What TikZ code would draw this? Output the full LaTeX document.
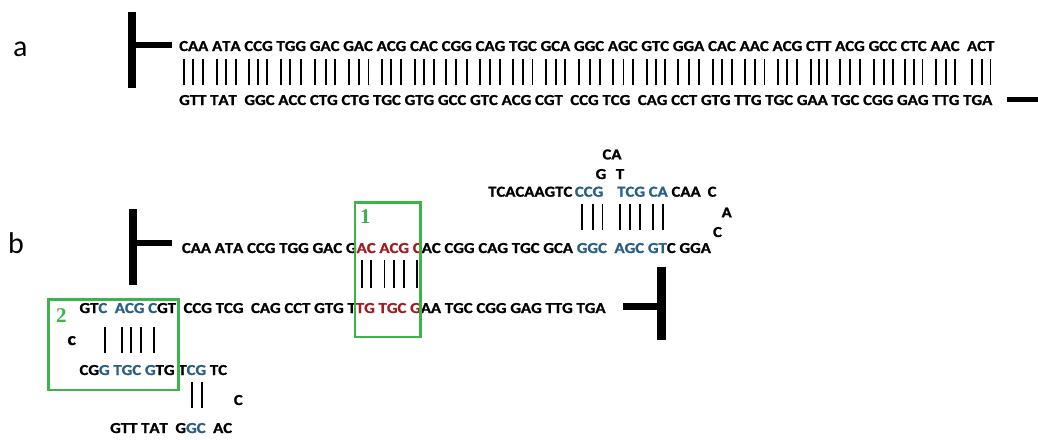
\documentclass[tikz,border=0pt]{standalone}
\usepackage{fontspec}
\setmainfont{Carlito}
\newfontfamily\seqf{Carlito}[Kerning=Off,FakeStretch=1.1,BoldFeatures={FakeBold=1.2}]
\newfontfamily\numf{Liberation Serif}
\definecolor{seqred}{RGB}{160,30,35}
\definecolor{seqblue}{RGB}{40,95,135}
\definecolor{boxgreen}{RGB}{60,180,75}
\newif\ifbarmode
\newif\ifpair
\newcount\barsel
\newdimen\barup \newdimen\bardn
\newcommand\seqfont{\seqf\bfseries\fontsize{15.2}{18}\selectfont}
\newcommand\Lt[1]{\setbox0\hbox{#1}\ifbarmode\hbox to\wd0{\hss\ifpair\vrule width 1.9pt height\barup depth\bardn\fi\hss}\else\box0\relax\fi}
\newcommand\Cd[3]{\Lt{#1}\Lt{#2}\Lt{#3}}
\newcommand\Sg[2]{\ifbarmode\ifnum#2=\barsel\pairtrue\else\pairfalse\fi\else\color{#1}\fi}
\newcommand\Bk{\ifbarmode\pairfalse\else\color{black}\fi}
\newcommand\seqAtop{\Cd CAA \Cd ATA \Cd CCG \Cd TGG \Cd GAC \Cd GAC \Cd ACG \Cd CAC \Cd CGG \Cd CAG \Cd TGC \Cd GCA \Cd GGC \Cd AGC \Cd GTC \Cd GGA \Cd CAC \Cd AAC \Cd ACG \Cd CTT \Cd ACG \Cd GCC \Cd CTC \Cd AAC\ \ \Cd ACT}
\newcommand\seqAbot{\Cd GTT \Cd TAT\ \ \Cd GGC \Cd ACC \Cd CTG \Cd CTG \Cd TGC \Cd GTG \Cd GCC \Cd GTC \Cd ACG \Cd CGT\ \ \Cd CCG \Cd TCG\ \ \Cd CAG \Cd CCT \Cd GTG \Cd TTG \Cd TGC \Cd GAA \Cd TGC \Cd CGG \Cd GAG \Cd TTG \Cd TGA}
\newcommand\seqBtop{\Cd CAA \Cd ATA \Cd CCG \Cd TGG \Cd GAC \Lt G\Sg{seqred}{1}\Lt A\Lt C \Cd ACG \Lt C\Bk\Lt A\Lt C \Cd CGG \Cd CAG \Cd TGC \Cd GCA \Sg{seqblue}{2}\Cd GGC\ \ \Cd AGC \Lt G\Lt T\Bk\Lt C \Cd GGA}
\newcommand\seqBbot{\Lt G\Lt T\Sg{seqblue}{1}\Lt C\ \ \Cd ACG \Lt C\Bk\Lt G\Lt T\ \ \Cd CCG \Cd TCG\ \ \Cd CAG \Cd CCT \Cd GTG \Lt T\Sg{seqred}{2}\Lt T\Lt G \Cd TGC \Lt G\Bk\Lt A\Lt A \Cd TGC \Cd CGG \Cd GAG \Cd TTG \Cd TGA}
\newcommand\seqBlo{\Lt C\Lt G\Sg{seqblue}{1}\Lt G \Cd TGC \Lt G\Bk\Lt T\Lt G \Lt T\Sg{seqblue}{2}\Lt C\Lt G\Bk\ \Lt T\Lt C}
\tikzset{
  seq/.style={anchor=base west, inner sep=0pt, font=\seqfont},
  letter/.style={anchor=base, inner sep=0pt, font=\seqfont},
  lab/.style={anchor=base west, inner sep=0pt, font=\fontsize{30}{34}\selectfont},
  numl/.style={anchor=base west, inner sep=0pt, text=boxgreen, font=\numf\bfseries\fontsize{21}{24}\selectfont},
  boxg/.style={draw=boxgreen, line width=2.5pt},
  vbar/.style={line width=8pt},
  hbar/.style={line width=6pt}
}
\begin{document}
\begin{tikzpicture}[x=1pt,y=-1pt]
\useasboundingbox (0,0) rectangle (1038,439);
\fill[white] (0,0) rectangle (1038,439);
% ---------- part a ----------
\node (la) [lab] at (13,56) {a};
\draw[vbar] (131.5,12) -- (131.5,88);
\draw[hbar] (135,45) -- (172,45);
\node (atop) [seq] at (179,51) {\seqAtop};
\node (abars) [seq] at (179,72) {\barmodetrue\pairtrue\barup=13.5pt\bardn=13pt\seqAtop};
\node (abot) [seq] at (179,105) {\seqAbot};
\draw[line width=5.5pt] (1007,99.5) -- (1038,99.5);
% ---------- part b ----------
\node (lb) [lab] at (8,253) {b};
\draw[vbar] (132.5,209) -- (132.5,285);
\draw[hbar] (136,243) -- (172,243);
\node (btop) [seq] at (181.7,253) {\seqBtop};
\node (bbars1) [seq] at (181.7,274) {\barmodetrue\barsel=1 \barup=14pt\bardn=14pt\seqBtop};
\node (bbars2) [seq] at (181.7,217) {\barmodetrue\barsel=2 \barup=13pt\bardn=13pt\seqBtop};
\node (hp) [seq] at (488,196.7) {TCACAAGTC\,\textcolor{seqblue}{CCG}\hspace{14pt}\textcolor{seqblue}{TCG CA} CAA\hspace{7pt}C};
\node (lca) [letter] at (612,159.4) {CA};
\node (lg) [letter] at (601,179) {G};
\node (lt) [letter] at (620,179) {T};
\node (ra) [letter] at (726.7,217.4) {A};
\node (rc) [letter] at (717.5,237) {C};
\node (bbot) [seq] at (79.3,313) {\seqBbot};
\node (cbars) [seq] at (81,340) {\barmodetrue\barsel=1 \barup=13.3pt\bardn=13.3pt\seqBbot};
\node (lo) [seq] at (79.3,375) {\seqBlo};
\node (lobars) [seq] at (80.5,395) {\barmodetrue\barsel=2 \barup=13.3pt\bardn=13.3pt\seqBlo};
\node (gtt) [seq] at (110,433) {GTT TAT\ \ G\textcolor{seqblue}{GC}\ \ AC};
\node (cl) [letter, font=\seqf\bfseries\fontsize{18}{20}\selectfont] at (71.7,345) {c};
\node (cr) [letter] at (238.3,405) {C};
\draw[line width=9pt] (661.5,266.7) -- (661.5,340);
\draw[line width=7pt] (623,306.5) -- (657,306.5);
% ---------- boxes ----------
\draw[boxg] (355,202.7) rectangle (420.7,337);
\draw[boxg] (48.3,299.3) rectangle (178.3,390);
\node (n1) [numl] at (360,223.5) {1};
\node (n2) [numl] at (56,322) {2};
\end{tikzpicture}
\end{document}
